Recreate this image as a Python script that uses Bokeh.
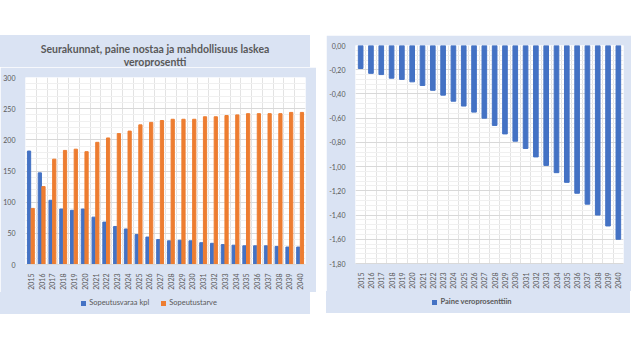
import math
from bokeh.plotting import figure
from bokeh.models import (ColumnDataSource, FixedTicker, SingleIntervalTicker,
                          Div, CustomJSTickFormatter)
from bokeh.layouts import row, column
from bokeh.transform import dodge
from bokeh.embed import file_html
from bokeh.resources import INLINE

years = ["2015", "2016", "2017", "2018", "2019", "2020", "2021", "2022", "2023", "2024",
         "2025", "2026", "2027", "2028", "2029", "2030", "2031", "2032", "2033", "2034",
         "2035", "2036", "2037", "2038", "2039", "2040"]
sopeutusvaraa = [182, 147, 103, 89, 87, 89, 76, 68, 61, 57, 48, 44, 40, 38, 39, 38,
                 35, 34, 32, 31, 30, 30, 30, 29, 28, 28]
sopeutustarve = [90, 125, 169, 183, 185, 181, 196, 203, 210, 214, 224, 228, 231, 233,
                 233, 233, 237, 237, 239, 240, 242, 242, 242, 242, 244, 244]
paine = [-0.19, -0.23, -0.24, -0.27, -0.28, -0.30, -0.33, -0.37, -0.41, -0.46, -0.50,
         -0.55, -0.60, -0.66, -0.73, -0.79, -0.85, -0.92, -0.99, -1.05, -1.13, -1.22,
         -1.31, -1.40, -1.49, -1.60]
title_lines = ["Seurakunnat, paine nostaa ja mahdollisuus laskea", "veroprosentti"]
left_labels = ["Sopeutusvaraa kpl", "Sopeutustarve"]
right_labels = ["Paine veroprosenttiin"]

BLUE = "#4472C4"
ORANGE = "#ED7D31"
PANEL = "#dae3f3"
TXT = "#595959"
FONT = "Lato"

idx = list(range(len(years)))
src = ColumnDataSource(dict(idx=idx, a=sopeutusvaraa, b=sopeutustarve, p=paine))


def style(p):
    p.border_fill_color = PANEL
    p.background_fill_color = "white"
    p.outline_line_color = None
    p.xaxis.ticker = FixedTicker(ticks=idx)
    p.xaxis.major_label_overrides = {i: y for i, y in zip(idx, years)}
    p.xaxis.major_label_orientation = math.pi / 2
    p.xaxis.major_tick_line_color = None
    p.xaxis.minor_tick_line_color = None
    p.xaxis.axis_line_color = "#d9d9d9"
    p.xaxis.major_label_standoff = 3
    p.yaxis.axis_line_color = None
    p.yaxis.major_tick_line_color = None
    p.yaxis.minor_tick_line_color = None
    p.yaxis.major_label_standoff = 4
    for ax in (p.xaxis, p.yaxis):
        ax.major_label_text_font = FONT
        ax.major_label_text_font_size = "7px"
        ax.major_label_text_color = TXT
    p.xgrid.ticker = FixedTicker(ticks=[i - 0.5 for i in range(len(years) + 1)])
    p.xgrid.grid_line_color = "#e3e3e3"
    p.ygrid.grid_line_color = "#d9d9d9"
    p.ygrid.minor_grid_line_color = "#f0f0f0"


BOX_STYLES = {"background-color": PANEL, "font-family": FONT, "color": TXT,
              "text-align": "center", "padding": "0", "box-sizing": "border-box",
              "overflow": "hidden"}


def legend_div(labels, colors, width, bold):
    parts = []
    for lab, col in zip(labels, colors):
        parts.append(
            "<span style=\"display:inline-block;width:5px;height:5px;background:%s;"
            "margin-right:3px;vertical-align:middle\"></span>"
            "<span style=\"vertical-align:middle;margin-right:12px\">%s</span>" % (col, lab))
    html = ("<div style=\"width:%dpx;text-align:center;font-family:Lato;font-size:7.5px;"
            "line-height:20px;color:%s;font-weight:%s;white-space:nowrap\">%s</div>"
            % (width, TXT, "bold" if bold else "normal", "".join(parts)))
    return Div(text=html, width=width, height=22, margin=0, styles=dict(BOX_STYLES))


xr = (-0.5, len(years) - 0.5)

# Left chart title (real text, in a panel-coloured box above the chart)
title_div = Div(
    text=("<div style=\"width:310px;padding-top:8px;text-align:center;font-family:Lato;"
          "font-weight:bold;font-size:10.5px;line-height:13px;color:%s\">%s<br>%s</div>"
          % (TXT, title_lines[0], title_lines[1])),
    width=310, height=32, margin=0, styles=dict(BOX_STYLES))

# Left chart
p1 = figure(frame_width=280, frame_height=187, output_backend="svg", toolbar_location=None,
            x_range=xr, y_range=(0, 300), margin=0,
            min_border_left=19, min_border_right=11, min_border_top=10, min_border_bottom=22)
style(p1)
p1.yaxis.ticker = SingleIntervalTicker(interval=50, num_minor_ticks=5)
p1.ygrid.ticker = SingleIntervalTicker(interval=50, num_minor_ticks=5)
p1.vbar(x=dodge("idx", -0.17), top="a", width=0.3, source=src, color=BLUE)
p1.vbar(x=dodge("idx", 0.17), top="b", width=0.3, source=src, color=ORANGE)
leg1 = legend_div(left_labels, [BLUE, ORANGE], 310, False)

# Right chart
p2 = figure(frame_width=268, frame_height=218, output_backend="svg", toolbar_location=None,
            x_range=xr, y_range=(-1.8, 0), margin=0,
            min_border_left=28, min_border_right=8, min_border_top=10, min_border_bottom=22)
style(p2)
p2.yaxis.ticker = SingleIntervalTicker(interval=0.2, num_minor_ticks=5)
p2.ygrid.ticker = SingleIntervalTicker(interval=0.2, num_minor_ticks=5)
p2.yaxis.formatter = CustomJSTickFormatter(
    code="var s = tick.toFixed(2).replace('.', ','); return s == '-0,00' ? '0,00' : s;")
p2.vbar(x="idx", top=0, bottom="p", width=0.45, source=src, color=BLUE)
leg2 = legend_div(right_labels, [BLUE], 304, True)

layout = row(column(title_div, p1, leg1, margin=(35, 0, 0, 0)),
             column(p2, leg2, margin=(35, 0, 0, 10)))

open("out.html", "w").write(file_html(layout, INLINE))
